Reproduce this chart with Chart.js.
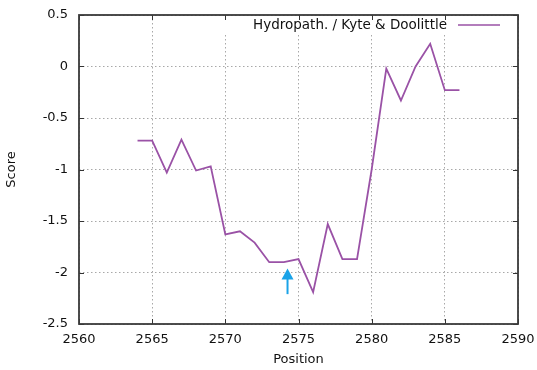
<!DOCTYPE html>
<html>
<head>
<meta charset="utf-8">
<script src="https://cdn.jsdelivr.net/npm/chart.js@4/dist/chart.umd.min.js"></script>
<style>
html,body{margin:0;padding:0;background:#fff;}
#wrap{width:537px;height:370px;position:relative;}
</style>
</head>
<body>
<div id="wrap"><canvas id="c" width="537" height="370"></canvas></div>
<script>
const positions = [2564,2565,2566,2567,2568,2569,2570,2571,2572,2573,2574,2575,2576,2577,2578,2579,2580,2581,2582,2583,2584,2585,2586];
const scores    = [-0.72,-0.72,-1.03,-0.71,-1.01,-0.97,-1.63,-1.60,-1.71,-1.90,-1.90,-1.87,-2.19,-1.53,-1.87,-1.87,-1.00,-0.02,-0.33,0.00,0.22,-0.23,-0.23];
const xTicks = [2560,2565,2570,2575,2580,2585,2590];
const yTicks = [0.5,0,-0.5,-1,-1.5,-2,-2.5];
const seriesLabel = 'Hydropath. / Kyte & Doolittle';
const arrowAt = {x: 2574.25, tip: -1.96, tail: -2.21};

const FONT = 'DejaVu Sans';
const TEXT = '#111';
const lineColor = '#9a52a6';

const deco = {
  id: 'deco',
  beforeDatasetsDraw(chart) {
    const {ctx, chartArea: a} = chart;
    ctx.save();
    ctx.font = '13.5px ' + FONT;
    const tw = ctx.measureText(seriesLabel).width;
    const textRight = a.right - 71;
    ctx.fillStyle = '#fff';
    const bx = textRight - tw - 30;
    ctx.fillRect(bx, a.top + 1, a.right - 2 - bx, 18);
    ctx.restore();
  },
  afterDraw(chart) {
    const {ctx, chartArea: a, scales: {x, y}} = chart;
    ctx.save();
    ctx.strokeStyle = '#333';
    ctx.lineWidth = 1;
    ctx.beginPath();
    xTicks.forEach(v => {
      const px = Math.round(x.getPixelForValue(v)) + 0.5;
      ctx.moveTo(px, a.bottom); ctx.lineTo(px, a.bottom - 5);
      ctx.moveTo(px, a.top); ctx.lineTo(px, a.top + 5);
    });
    yTicks.forEach(v => {
      const py = Math.round(y.getPixelForValue(v)) + 0.5;
      ctx.moveTo(a.left, py); ctx.lineTo(a.left + 5, py);
      ctx.moveTo(a.right, py); ctx.lineTo(a.right - 5, py);
    });
    ctx.stroke();
    ctx.strokeStyle = '#3a3a3a';
    ctx.lineWidth = 1.8;
    ctx.strokeRect(a.left, a.top, a.right - a.left, a.bottom - a.top);
    ctx.font = '13.5px ' + FONT;
    ctx.fillStyle = TEXT;
    ctx.textAlign = 'right';
    ctx.textBaseline = 'middle';
    const textRight = a.right - 71;
    const ly = a.top + 10;
    ctx.fillText(seriesLabel, textRight, ly);
    ctx.strokeStyle = lineColor;
    ctx.lineWidth = 1.6;
    ctx.beginPath();
    ctx.moveTo(textRight + 11, ly); ctx.lineTo(a.right - 18, ly);
    ctx.stroke();
    const ax = x.getPixelForValue(arrowAt.x);
    const tipY = y.getPixelForValue(arrowAt.tip);
    const tailY = y.getPixelForValue(arrowAt.tail);
    ctx.strokeStyle = '#1aa3e8';
    ctx.fillStyle = '#1aa3e8';
    ctx.lineWidth = 2;
    ctx.beginPath();
    ctx.moveTo(ax, tailY); ctx.lineTo(ax, tipY + 8);
    ctx.stroke();
    ctx.beginPath();
    ctx.moveTo(ax, tipY); ctx.lineTo(ax - 6, tipY + 11); ctx.lineTo(ax + 6, tipY + 11);
    ctx.closePath();
    ctx.fill();
    ctx.restore();
  }
};

new Chart(document.getElementById('c'), {
  type: 'line',
  data: {
    datasets: [{
      label: seriesLabel,
      data: positions.map((p, i) => ({x: p, y: scores[i]})),
      borderColor: lineColor,
      borderWidth: 1.8,
      pointRadius: 0,
      tension: 0,
      fill: false
    }]
  },
  options: {
    responsive: false,
    animation: false,
    events: [],
    layout: {padding: {top: 15, right: 19, left: 0, bottom: 0}},
    plugins: {legend: {display: false}, tooltip: {enabled: false}},
    scales: {
      x: {
        type: 'linear', min: 2560, max: 2590,
        afterBuildTicks: s => { s.ticks = xTicks.map(v => ({value: v})); },
        afterFit: s => { s.height = 46; s.paddingLeft = 0; s.paddingRight = 0; },
        grid: {color: '#a8a8a8', lineWidth: 1, drawTicks: false},
        border: {display: false, dash: [1.5, 2.5]},
        ticks: {padding: 8, color: TEXT, font: {family: FONT, size: 13}, maxRotation: 0,
                callback: v => String(v)},
        title: {display: true, text: 'Position', color: TEXT, font: {family: FONT, size: 13},
                padding: {top: 0, bottom: 3}}
      },
      y: {
        type: 'linear', min: -2.5, max: 0.5,
        afterBuildTicks: s => { s.ticks = yTicks.map(v => ({value: v})); },
        afterFit: s => { s.width = 79; s.paddingTop = 0; s.paddingBottom = 0; },
        grid: {color: '#a8a8a8', lineWidth: 1, drawTicks: false},
        border: {display: false, dash: [1.5, 2.5]},
        ticks: {padding: 11, color: TEXT, font: {family: FONT, size: 13},
                callback: v => String(v)},
        title: {display: true, text: 'Score', color: TEXT, font: {family: FONT, size: 13},
                padding: {top: 4, bottom: 0}}
      }
    }
  },
  plugins: [deco]
});
</script>
</body>
</html>
